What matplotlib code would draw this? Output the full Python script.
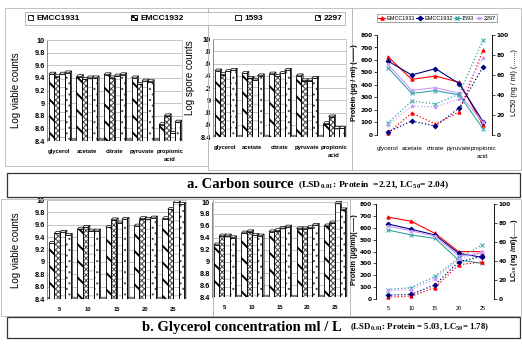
import matplotlib
matplotlib.use('Agg')
import matplotlib.pyplot as plt
from matplotlib.patches import Polygon, Rectangle, Patch
from matplotlib.lines import Line2D
import numpy as np

plt.rcParams['hatch.linewidth'] = 0.8
plt.rcParams['mathtext.fontset'] = 'custom'
plt.rcParams['mathtext.rm'] = 'Liberation Serif:bold'
plt.rcParams['mathtext.it'] = 'Liberation Serif:bold'
plt.rcParams['mathtext.bf'] = 'Liberation Serif:bold'

# ---- data ----
strains = ['EMCC1931', 'EMCC1932', '1593', '2297']
carbon = ['glycerol', 'acetate', 'citrate', 'pyruvate', 'propionic\nacid']
conc = ['5', '10', '15', '20', '25']

# log counts, one row per strain (EMCC1931, EMCC1932, 1593, 2297)
viable_carbon = [[9.46, 9.42, 9.45, 9.40, 8.66],
                 [9.42, 9.38, 9.40, 9.30, 8.80],
                 [9.46, 9.40, 9.43, 9.35, 8.52],
                 [9.48, 9.40, 9.45, 9.34, 8.70]]
spore_carbon = [[9.48, 9.44, 9.43, 9.40, 8.62],
                [9.42, 9.36, 9.39, 9.32, 8.73],
                [9.47, 9.33, 9.44, 9.32, 8.54],
                [9.49, 9.40, 9.49, 9.36, 8.54]]
viable_conc = [[9.30, 9.53, 9.56, 9.58, 9.70],
               [9.46, 9.56, 9.68, 9.70, 9.85],
               [9.48, 9.50, 9.63, 9.69, 9.96],
               [9.43, 9.50, 9.69, 9.71, 9.93]]
spore_conc = [[9.28, 9.48, 9.50, 9.55, 9.60],
              [9.43, 9.50, 9.52, 9.55, 9.65],
              [9.43, 9.44, 9.56, 9.57, 9.98],
              [9.40, 9.43, 9.58, 9.61, 9.87]]

# protein (ug/ml) and LC50 (ng/ml)
protein_carbon = [[627, 445, 472, 421, 80],
                  [592, 480, 531, 411, 107],
                  [539, 333, 355, 320, 51],
                  [565, 357, 379, 333, 101]]
lc50_carbon = [[2, 22, 11, 23, 85],
               [3, 14, 9, 27, 68],
               [12, 34, 31, 41, 95],
               [10, 29, 28, 36, 77]]
protein_conc = [[690, 654, 553, 399, 399],
                [632, 587, 539, 385, 351],
                [581, 539, 511, 328, 300],
                [615, 573, 530, 362, 385]]
lc50_conc = [[2, 3, 12, 36, 39],
             [4, 5, 15, 39, 45],
             [10, 12, 24, 43, 57],
             [9, 10, 21, 42, 50]]

hatches = ['\\\\', 'xxxxxx', '--', '...']
hatch_cols = ['black', '#555555', '#b0b0b0', '#555555']
hatch_lws = [1.4, 0.8, 0.6, 0.8]
line_cols = ['#ff0000', '#000080', '#33a3a3', '#cc99ff']
markers = ['^', 'D', 'x', '*']
sans = 'Liberation Sans'

fig = plt.figure(figsize=(5.22, 3.47), dpi=100)
W, H = 522, 347


def px_rect(x0, y0, x1, y1):
    return [x0 / W, 1 - y1 / H, (x1 - x0) / W, (y1 - y0) / H]


# light frames round each chart
for x0, y0, x1, y1 in [(5, 8, 208, 166), (208, 8, 352, 170), (352, 8, 521, 170),
                       (1, 199, 213, 316), (213, 199, 350, 316), (350, 199, 521, 316)]:
    fig.add_artist(Rectangle((x0 / W, 1 - y1 / H), (x1 - x0) / W, (y1 - y0) / H,
                             transform=fig.transFigure, fill=False,
                             ec='#b8b8b8', lw=0.6))


def bar3d(ax, cats, rows, ticklabels=None):
    x = np.arange(len(cats))
    w, dx, dy = 0.19, 0.06, 0.03
    ax.set_xlim(-0.45, len(cats) - 0.55)
    ax.set_ylim(8.4, 10)
    ax.axhspan(8.4, 8.44, color='#808080', zorder=1)
    for i, vals in enumerate(rows):
        xs = x + (i - 1.5) * w
        v = np.array(vals)
        with plt.rc_context({'hatch.linewidth': hatch_lws[i]}):
            ax.bar(xs, v - 8.4, bottom=8.4, width=w, color='white',
                   edgecolor=hatch_cols[i], hatch=hatches[i], lw=0, zorder=3)
        ax.bar(xs, v - 8.4, bottom=8.4, width=w, fill=False,
               edgecolor='black', lw=0.6, zorder=4)
        for xc, h in zip(xs, v):
            ax.add_patch(Polygon([(xc - w / 2, h), (xc + w / 2, h),
                                  (xc + w / 2 + dx, h + dy), (xc - w / 2 + dx, h + dy)],
                                 fc='white', ec='black', lw=0.5, zorder=2, clip_on=False))
            ax.add_patch(Polygon([(xc + w / 2, 8.4), (xc + w / 2, h),
                                  (xc + w / 2 + dx, h + dy), (xc + w / 2 + dx, 8.4 + dy)],
                                 fc='#bdbdbd', ec='black', lw=0.5, zorder=2, clip_on=False))
    ticks = np.arange(8.4, 10.01, 0.2)
    ax.set_yticks(ticks)
    if ticklabels is None:
        ticklabels = [f'{t:g}' for t in np.round(ticks, 1)]
    ax.set_yticklabels(ticklabels, family=sans, weight='bold', size=5.3)
    ax.set_xticks(x)
    ax.set_xticklabels(cats, family=sans, weight='bold', size=4.2, linespacing=1.6)
    ax.tick_params(axis='y', length=0, pad=1.5)
    ax.tick_params(axis='x', length=0, pad=6)
    ax.yaxis.grid(True, color='#bcbcbc', lw=0.6)
    ax.set_axisbelow(True)
    ax.spines['left'].set_color('#777777')
    ax.spines['left'].set_linewidth(0.6)
    for s in ['top', 'right']:
        ax.spines[s].set_color('#c8c8c8')
        ax.spines[s].set_linewidth(0.6)
    ax.spines['bottom'].set_visible(False)


def lines(ax, cats, prot, lc, xlim, size):
    x = np.arange(len(cats))
    axr = ax.twinx()
    for i in range(4):
        ax.plot(x, prot[i], color=line_cols[i], marker=markers[i], ms=2.4,
                mew=0.7, lw=0.8)
        axr.plot(x, lc[i], color=line_cols[i], marker=markers[i], ms=2.4,
                 mew=0.7, lw=0.9, ls=':')
    ax.set_ylim(0, 800)
    axr.set_ylim(0, 100)
    ax.set_xlim(*xlim)
    ax.set_yticks(np.arange(0, 801, 100))
    axr.set_yticks(np.arange(0, 101, 20))
    ax.set_xticks(x)
    ax.set_xticklabels(cats, family=sans, size=size, linespacing=1.7)
    for a in (ax, axr):
        a.tick_params(axis='y', length=2, width=0.5, pad=1.2, labelsize=4.2)
        for lab in a.get_yticklabels():
            lab.set_fontweight('bold')
        for s in ['top', 'bottom']:
            a.spines[s].set_visible(False)
        a.spines['left'].set_linewidth(0.5)
        a.spines['right'].set_linewidth(0.5)
    ax.tick_params(axis='x', length=0, pad=8)
    return axr


# ---- a. carbon source ----
ax1 = fig.add_axes(px_rect(47, 40, 182, 141))
bar3d(ax1, carbon, viable_carbon)
ax2 = fig.add_axes(px_rect(213, 39, 346, 137))
bar3d(ax2, carbon, spore_carbon,
      ticklabels=['8.4', '.6', '.8', '9', '.2', '.4', '.6', '.8', '10'])
ax3 = fig.add_axes(px_rect(377, 35, 492, 135))
lines(ax3, carbon, protein_carbon, lc50_carbon, (-0.46, 4.38), 4.6)

# ---- b. glycerol concentration ----
ax4 = fig.add_axes(px_rect(47, 200, 186, 299))
bar3d(ax4, conc, viable_conc)
ax5 = fig.add_axes(px_rect(212, 202, 347, 297))
bar3d(ax5, conc, spore_conc)
ax6 = fig.add_axes(px_rect(376, 204, 494, 299))
lines(ax6, conc, protein_conc, lc50_conc, (-0.5, 4.5), 4.0)
ax6.tick_params(axis='x', pad=5)

# axis titles
lab = dict(rotation=90, ha='center', va='center', family=sans)
fig.text(16 / W, 1 - 90 / H, 'Log viable counts', size=7, **lab)
fig.text(190 / W, 1 - 78 / H, 'Log spore counts', size=7, **lab)
fig.text(16 / W, 1 - 250 / H, 'Log viable counts', size=7, **lab)
fig.text(355 / W, 1 - 83 / H, 'Protein (µg / ml) (——)', size=5.2, weight='bold', **lab)
fig.text(515 / W, 1 - 83 / H, 'LC50 (ng / ml) (.......)', size=5.2, **lab)
fig.text(355 / W, 1 - 250 / H, 'Protein (µg/ml)(——)', size=5.2, weight='bold', **lab)
fig.text(515 / W, 1 - 250 / H, 'LC$_{50}$ (ng /ml)(.......)', size=5.2, weight='bold', **lab)

# legends
bar_handles = []
for i in range(4):
    with plt.rc_context({'hatch.linewidth': hatch_lws[i] * 0.7}):
        bar_handles.append(Patch(facecolor='white', edgecolor=hatch_cols[i],
                                 hatch=hatches[i], lw=0.6))
leg = fig.legend(bar_handles, strains, loc='center',
                 bbox_to_anchor=(25 / W, 1 - 25 / H, 320 / W, 13 / H), mode='expand',
                 ncol=4, frameon=True, fancybox=False, edgecolor='#999999',
                 borderaxespad=0, borderpad=0.3, handlelength=0.7, handleheight=0.7,
                 handletextpad=0.4, prop={'family': sans, 'weight': 'bold', 'size': 6})
leg.get_frame().set_linewidth(0.6)
for p in leg.get_patches():
    p.set_edgecolor('black')

line_handles = [Line2D([], [], color=line_cols[i], marker=markers[i], ms=2.3, lw=0.8)
                for i in range(4)]
leg2 = fig.legend(line_handles, strains, loc='center',
                  bbox_to_anchor=(377 / W, 1 - 24 / H, 120 / W, 12 / H), mode='expand',
                  ncol=4, frameon=True, fancybox=False, edgecolor='#777777',
                  borderaxespad=0, borderpad=0.25, handlelength=1.2, handletextpad=0.2,
                  columnspacing=0.3,
                  prop={'family': sans, 'size': 4.0})
leg2.get_frame().set_linewidth(0.6)

# captions
for y0, y1 in [(173, 197), (317, 338)]:
    fig.add_artist(Rectangle((7 / W, 1 - y1 / H), 513 / W, (y1 - y0) / H,
                             transform=fig.transFigure, fc='white', ec='#333333', lw=0.9))
serif = dict(family='Liberation Serif', weight='bold', va='center')
fig.text(297 / W, 1 - 185 / H, 'a. Carbon source ', ha='right', size=10.5, **serif)
fig.text(298 / W, 1 - 185.5 / H,
         r'(LSD$_{\,0.01}$: Protein  =2.21, LC$_{50}$= 2.04)', ha='left', size=6.8, **serif)
fig.text(345 / W, 1 - 327 / H, 'b. Glycerol concentration ml / L ', ha='right', size=10.5, **serif)
fig.text(350 / W, 1 - 327.5 / H,
         r'(LSD$_{\,0.01}$: Protein = 5.03, LC$_{50}$= 1.78)', ha='left', size=6.3, **serif)

fig.savefig('out.png', dpi=100)
